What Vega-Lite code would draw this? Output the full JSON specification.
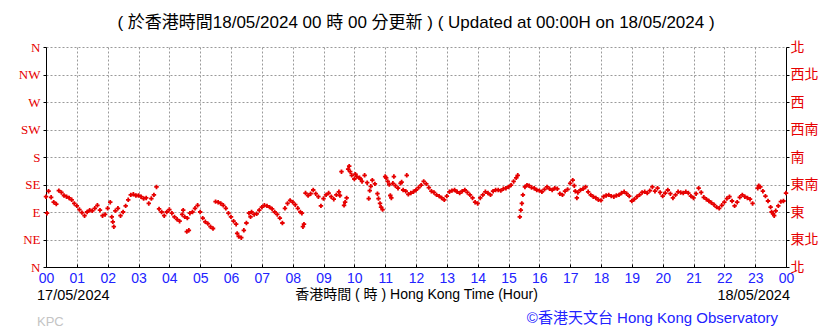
{
  "$schema": "https://vega.github.io/schema/vega-lite/v6.json",
  "width": 740,
  "height": 220,
  "autosize": {"type": "none"},
  "padding": {"left": 46, "top": 47, "right": 52, "bottom": 64},
  "background": "white",
  "config": {"view": {"stroke": null}},
  "title": {"text": "( 於香港時間18/05/2024 00 時 00 分更新 ) ( Updated at 00:00H on 18/05/2024 )", "fontSize": 17, "font": "Liberation Sans Narrow, Liberation Sans, Noto Sans CJK TC", "fontWeight": "normal", "color": "black", "offset": 8, "anchor": "middle"},
  "datasets": {
    "wind": [
      {"m":0,"d":115},{"m":2,"d":88},{"m":5,"d":124},{"m":10,"d":114},{"m":15,"d":106},{"m":20,"d":103},{"m":25,"d":125},{"m":30,"d":122},{"m":35,"d":117},{"m":40,"d":115},{"m":45,"d":113},{"m":50,"d":110},{"m":55,"d":104},
      {"m":60,"d":100},{"m":65,"d":94},{"m":70,"d":89},{"m":75,"d":84},{"m":80,"d":90},{"m":85,"d":93},{"m":90,"d":92},{"m":95,"d":96},{"m":100,"d":101},{"m":105,"d":93},{"m":110,"d":84},{"m":115,"d":86},
      {"m":120,"d":96},{"m":125,"d":106},{"m":128,"d":82},{"m":130,"d":74},{"m":132,"d":66},{"m":135,"d":92},{"m":140,"d":96},{"m":145,"d":84},{"m":150,"d":90},{"m":155,"d":100},{"m":160,"d":110},{"m":165,"d":118},{"m":170,"d":119},{"m":175,"d":117},
      {"m":180,"d":117},{"m":185,"d":115},{"m":190,"d":112},{"m":195,"d":113},{"m":200,"d":104},{"m":205,"d":112},{"m":210,"d":118},{"m":215,"d":131},{"m":220,"d":95},{"m":225,"d":90},{"m":230,"d":84},{"m":235,"d":90},
      {"m":240,"d":94},{"m":245,"d":88},{"m":250,"d":82},{"m":255,"d":78},{"m":260,"d":75},{"m":265,"d":86},{"m":267,"d":93},{"m":270,"d":82},{"m":274,"d":58},{"m":275,"d":80},{"m":278,"d":60},{"m":280,"d":88},{"m":285,"d":90},{"m":290,"d":96},{"m":295,"d":101},
      {"m":300,"d":90},{"m":305,"d":80},{"m":310,"d":74},{"m":315,"d":71},{"m":320,"d":66},{"m":325,"d":63},{"m":330,"d":107},{"m":335,"d":106},{"m":340,"d":104},{"m":345,"d":101},{"m":350,"d":96},{"m":355,"d":88},
      {"m":360,"d":82},{"m":365,"d":75},{"m":370,"d":70},{"m":372,"d":55},{"m":375,"d":50},{"m":380,"d":48},{"m":385,"d":60},{"m":390,"d":72},{"m":395,"d":88},{"m":398,"d":82},{"m":400,"d":90},{"m":405,"d":86},{"m":410,"d":87},{"m":415,"d":93},
      {"m":420,"d":98},{"m":425,"d":101},{"m":430,"d":100},{"m":435,"d":98},{"m":440,"d":95},{"m":445,"d":90},{"m":450,"d":86},{"m":455,"d":80},{"m":460,"d":72},{"m":465,"d":96},{"m":470,"d":104},{"m":475,"d":109},
      {"m":480,"d":106},{"m":485,"d":102},{"m":490,"d":96},{"m":495,"d":90},{"m":498,"d":88},{"m":500,"d":66},{"m":502,"d":70},{"m":505,"d":121},{"m":510,"d":117},{"m":515,"d":120},{"m":520,"d":126},{"m":525,"d":120},{"m":530,"d":115},{"m":535,"d":100},
      {"m":540,"d":112},{"m":545,"d":118},{"m":550,"d":121},{"m":555,"d":115},{"m":560,"d":111},{"m":565,"d":118},{"m":570,"d":123},{"m":572,"d":117},{"m":575,"d":156},{"m":580,"d":101},{"m":582,"d":106},{"m":585,"d":113},{"m":588,"d":160},{"m":590,"d":165},{"m":592,"d":156},{"m":595,"d":150},
      {"m":600,"d":144},{"m":602,"d":152},{"m":605,"d":148},{"m":610,"d":146},{"m":612,"d":144},{"m":615,"d":140},{"m":620,"d":150},{"m":625,"d":138},{"m":628,"d":112},{"m":630,"d":125},{"m":632,"d":132},{"m":635,"d":142},{"m":640,"d":136},{"m":645,"d":120},{"m":647,"d":112},{"m":650,"d":104},{"m":652,"d":98},{"m":655,"d":94},
      {"m":660,"d":148},{"m":662,"d":146},{"m":665,"d":140},{"m":668,"d":135},{"m":670,"d":117},{"m":672,"d":113},{"m":675,"d":137},{"m":677,"d":148},{"m":680,"d":133},{"m":685,"d":129},{"m":690,"d":137},{"m":692,"d":139},{"m":695,"d":126},{"m":700,"d":124},{"m":702,"d":150},{"m":705,"d":119},{"m":710,"d":121},{"m":715,"d":123},
      {"m":720,"d":126},{"m":725,"d":130},{"m":730,"d":134},{"m":735,"d":140},{"m":740,"d":136},{"m":745,"d":130},{"m":750,"d":124},{"m":755,"d":122},{"m":760,"d":118},{"m":765,"d":116},{"m":770,"d":113},{"m":775,"d":110},
      {"m":780,"d":116},{"m":785,"d":123},{"m":790,"d":125},{"m":795,"d":126},{"m":800,"d":123},{"m":805,"d":121},{"m":810,"d":124},{"m":815,"d":126},{"m":820,"d":122},{"m":825,"d":118},{"m":830,"d":113},{"m":835,"d":106},
      {"m":840,"d":104},{"m":845,"d":113},{"m":850,"d":118},{"m":855,"d":123},{"m":860,"d":121},{"m":865,"d":118},{"m":870,"d":124},{"m":875,"d":126},{"m":880,"d":126},{"m":885,"d":125},{"m":890,"d":128},{"m":895,"d":129},
      {"m":900,"d":131},{"m":905,"d":134},{"m":910,"d":140},{"m":915,"d":146},{"m":918,"d":150},{"m":922,"d":82},{"m":924,"d":93},{"m":926,"d":104},{"m":928,"d":118},{"m":932,"d":131},{"m":936,"d":134},{"m":940,"d":133},{"m":945,"d":130},{"m":950,"d":129},{"m":955,"d":126},
      {"m":960,"d":125},{"m":965,"d":123},{"m":970,"d":127},{"m":975,"d":131},{"m":980,"d":128},{"m":985,"d":126},{"m":990,"d":129},{"m":995,"d":128},{"m":1000,"d":120},{"m":1005,"d":118},{"m":1010,"d":124},{"m":1015,"d":127},
      {"m":1020,"d":137},{"m":1025,"d":142},{"m":1028,"d":133},{"m":1030,"d":124},{"m":1033,"d":113},{"m":1035,"d":122},{"m":1040,"d":126},{"m":1045,"d":128},{"m":1050,"d":131},{"m":1055,"d":123},{"m":1060,"d":118},{"m":1065,"d":115},{"m":1070,"d":113},{"m":1075,"d":110},
      {"m":1080,"d":109},{"m":1085,"d":115},{"m":1090,"d":117},{"m":1095,"d":118},{"m":1100,"d":116},{"m":1105,"d":115},{"m":1110,"d":117},{"m":1115,"d":118},{"m":1120,"d":121},{"m":1125,"d":123},{"m":1130,"d":120},{"m":1135,"d":116},
      {"m":1140,"d":108},{"m":1145,"d":111},{"m":1150,"d":115},{"m":1155,"d":118},{"m":1160,"d":122},{"m":1165,"d":123},{"m":1170,"d":121},{"m":1175,"d":125},{"m":1180,"d":131},{"m":1185,"d":124},{"m":1190,"d":129},{"m":1195,"d":122},
      {"m":1200,"d":116},{"m":1205,"d":121},{"m":1210,"d":126},{"m":1215,"d":120},{"m":1220,"d":113},{"m":1225,"d":118},{"m":1230,"d":123},{"m":1235,"d":122},{"m":1240,"d":121},{"m":1245,"d":123},{"m":1250,"d":121},{"m":1255,"d":116},
      {"m":1260,"d":113},{"m":1265,"d":120},{"m":1270,"d":129},{"m":1275,"d":122},{"m":1280,"d":114},{"m":1285,"d":111},{"m":1290,"d":108},{"m":1295,"d":105},{"m":1300,"d":102},{"m":1305,"d":98},{"m":1310,"d":96},{"m":1315,"d":101},
      {"m":1320,"d":106},{"m":1325,"d":112},{"m":1330,"d":115},{"m":1335,"d":108},{"m":1340,"d":100},{"m":1345,"d":106},{"m":1350,"d":114},{"m":1355,"d":118},{"m":1360,"d":115},{"m":1365,"d":113},{"m":1370,"d":111},{"m":1375,"d":104},
      {"m":1385,"d":129},{"m":1387,"d":133},{"m":1390,"d":131},{"m":1395,"d":124},{"m":1400,"d":116},{"m":1405,"d":108},{"m":1410,"d":98},{"m":1412,"d":90},{"m":1415,"d":87},{"m":1417,"d":84},{"m":1420,"d":92},{"m":1425,"d":100},{"m":1430,"d":107},{"m":1435,"d":108},{"m":1440,"d":121}
    ]
  },
  "layer": [
    {
      "data": {"name": "wind"},
      "mark": {"type": "point", "shape": "cross", "filled": true, "size": 20, "color": "#e60000", "opacity": 1},
      "encoding": {
        "x": {"field": "m", "type": "quantitative", "scale": {"domain": [0, 1440], "nice": false, "zero": false},
          "axis": {"values": [0,60,120,180,240,300,360,420,480,540,600,660,720,780,840,900,960,1020,1080,1140,1200,1260,1320,1380,1440],
            "labelExpr": "(floor(datum.value/60)%24 < 10 ? '0' : '') + (floor(datum.value/60)%24)",
            "labelFlush": false, "labelOverlap": false,
            "grid": true, "gridDash": [2, 2], "gridColor": "#9a9a9a", "gridWidth": 1,
            "domainColor": "black", "domainWidth": 1, "tickColor": "black", "tickSize": -3,
            "labelColor": "#2222ff", "labelFont": "Liberation Sans", "labelFontSize": 14, "labelPadding": 7,
            "title": "香港時間 ( 時 ) Hong Kong Time (Hour)", "titleFont": "Liberation Sans, Noto Sans CJK TC", "titleFontSize": 14, "titleFontWeight": "normal", "titleColor": "black", "titlePadding": 2}},
        "y": {"field": "d", "type": "quantitative", "scale": {"domain": [0, 360], "nice": false},
          "axis": {"values": [0,45,90,135,180,225,270,315,360],
            "labelExpr": "['N','NE','E','SE','S','SW','W','NW','N'][round(datum.value/45)]",
            "labelFlush": false,
            "grid": true, "gridDash": [2, 2], "gridColor": "#9a9a9a", "gridWidth": 1,
            "domainColor": "black", "domainWidth": 1, "tickColor": "black", "tickSize": 3,
            "labelColor": "#e60000", "labelFont": "Liberation Serif", "labelFontSize": 13, "labelPadding": 3,
            "title": null}}
      }
    },
    {
      "data": {"name": "wind"},
      "mark": {"type": "point", "opacity": 0},
      "encoding": {
        "x": {"field": "m", "type": "quantitative", "scale": {"domain": [0, 1440], "nice": false, "zero": false}, "axis": null},
        "y": {"field": "d", "type": "quantitative", "scale": {"domain": [0, 360], "nice": false},
          "axis": {"orient": "right", "values": [0,45,90,135,180,225,270,315,360],
            "labelExpr": "['北','東北','東','東南','南','西南','西','西北','北'][round(datum.value/45)]",
            "labelFlush": false,
            "grid": false, "domainColor": "black", "domainWidth": 1, "tickColor": "black", "tickSize": 3,
            "labelColor": "#e60000", "labelFont": "Noto Sans CJK TC", "labelFontSize": 14, "labelPadding": 1,
            "title": null}}
      }
    },
    {
      "data": {"values": [{"label": "17/05/2024"}]},
      "mark": {"type": "text", "align": "left", "baseline": "middle", "dx": -9, "dy": 29, "fontSize": 14.5, "font": "Liberation Sans", "color": "black"},
      "encoding": {
        "x": {"datum": 0, "type": "quantitative", "scale": {"domain": [0, 1440], "nice": false, "zero": false}, "axis": null},
        "y": {"datum": 0, "type": "quantitative", "scale": {"domain": [0, 360], "nice": false}, "axis": null},
        "text": {"field": "label"}
      }
    },
    {
      "data": {"values": [{"label": "18/05/2024"}]},
      "mark": {"type": "text", "align": "right", "baseline": "middle", "dx": 4, "dy": 29, "fontSize": 14.5, "font": "Liberation Sans", "color": "black"},
      "encoding": {
        "x": {"datum": 1440, "type": "quantitative", "scale": {"domain": [0, 1440], "nice": false, "zero": false}, "axis": null},
        "y": {"datum": 0, "type": "quantitative", "scale": {"domain": [0, 360], "nice": false}, "axis": null},
        "text": {"field": "label"}
      }
    },
    {
      "data": {"values": [{"label": "KPC"}]},
      "mark": {"type": "text", "align": "left", "baseline": "middle", "dx": -9, "dy": 55, "fontSize": 13, "font": "Liberation Sans", "color": "#c4c4c4"},
      "encoding": {
        "x": {"datum": 0, "type": "quantitative", "scale": {"domain": [0, 1440], "nice": false, "zero": false}, "axis": null},
        "y": {"datum": 0, "type": "quantitative", "scale": {"domain": [0, 360], "nice": false}, "axis": null},
        "text": {"field": "label"}
      }
    },
    {
      "data": {"values": [{"label": "©香港天文台 Hong Kong Observatory"}]},
      "mark": {"type": "text", "align": "right", "baseline": "middle", "dx": -8, "dy": 51, "fontSize": 15, "font": "Liberation Sans, Noto Sans CJK TC", "color": "#2222ff"},
      "encoding": {
        "x": {"datum": 1440, "type": "quantitative", "scale": {"domain": [0, 1440], "nice": false, "zero": false}, "axis": null},
        "y": {"datum": 0, "type": "quantitative", "scale": {"domain": [0, 360], "nice": false}, "axis": null},
        "text": {"field": "label"}
      }
    }
  ],
  "resolve": {"scale": {"y": "independent"}, "axis": {"x": "independent"}}
}
